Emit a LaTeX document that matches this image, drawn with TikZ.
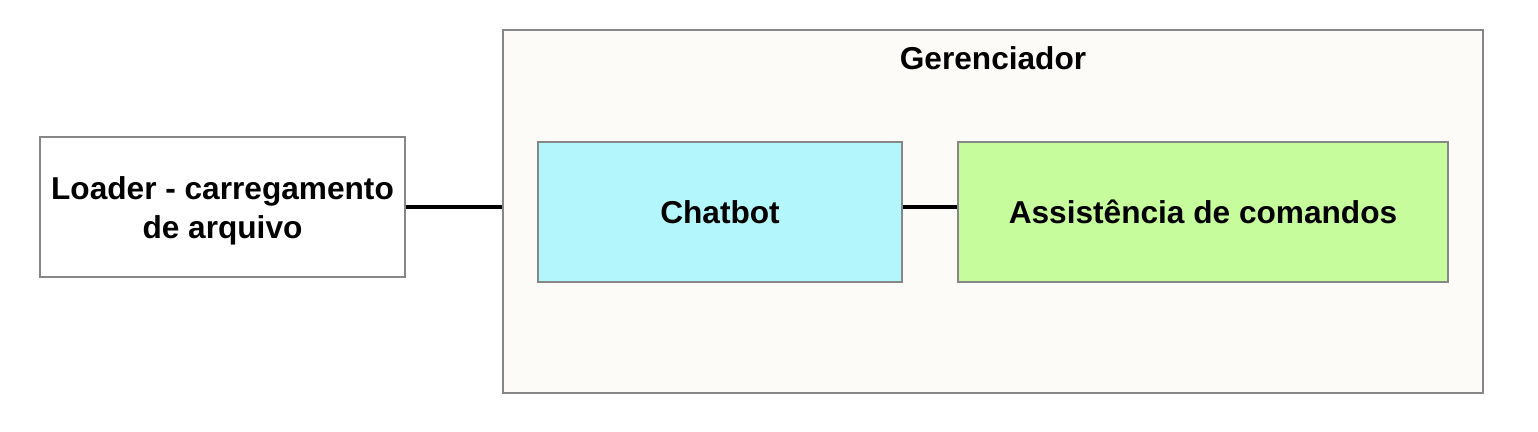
\documentclass[tikz,border=0pt]{standalone}
\usepackage{fontspec}
\setmainfont{Liberation Sans}
\definecolor{boxgray}{HTML}{878787}
\definecolor{gerfill}{HTML}{FCFBF8}
\definecolor{chatfill}{HTML}{B3F7FD}
\definecolor{assistfill}{HTML}{C7FC9C}
\tikzset{
	block/.style={draw=boxgray, line width=1.6pt, minimum height=2.8cm, align=center,
		font=\fontsize{18}{22.5}\selectfont\bfseries},
	link/.style={line width=1.8pt, black}
}
\begin{document}
\begin{tikzpicture}
		\useasboundingbox (0, 0) rectangle (30.76, -8.64);
		\node [block, fill=gerfill, minimum width=19.6cm, minimum height=7.26cm] (ger) at (19.86, -4.23) {};
		\node [font=\fontsize{18}{22.5}\selectfont\bfseries] (gerlabel) at (19.86, -1.17) {Gerenciador};
		\node [block, fill=white, minimum width=7.3cm] (loader) at (4.45, -4.14) {};
		\node [font=\fontsize{18}{22.5}\selectfont\bfseries, align=center] (loadertext) at (4.45, -4.22) {Loader - carregamento\\de arquivo};
		\node [block, fill=chatfill, minimum width=7.28cm] (chatbot) at (14.4, -4.24) {Chatbot};
		\node [block, fill=assistfill, minimum width=9.8cm] (assist) at (24.06, -4.24) {Assistência de comandos};
		\draw [link] (loader.east) -- (loader.east -| ger.west);
		\draw [link] (chatbot.east |- loader.east) -- (assist.west |- loader.east);
	\end{tikzpicture}
\end{document}
